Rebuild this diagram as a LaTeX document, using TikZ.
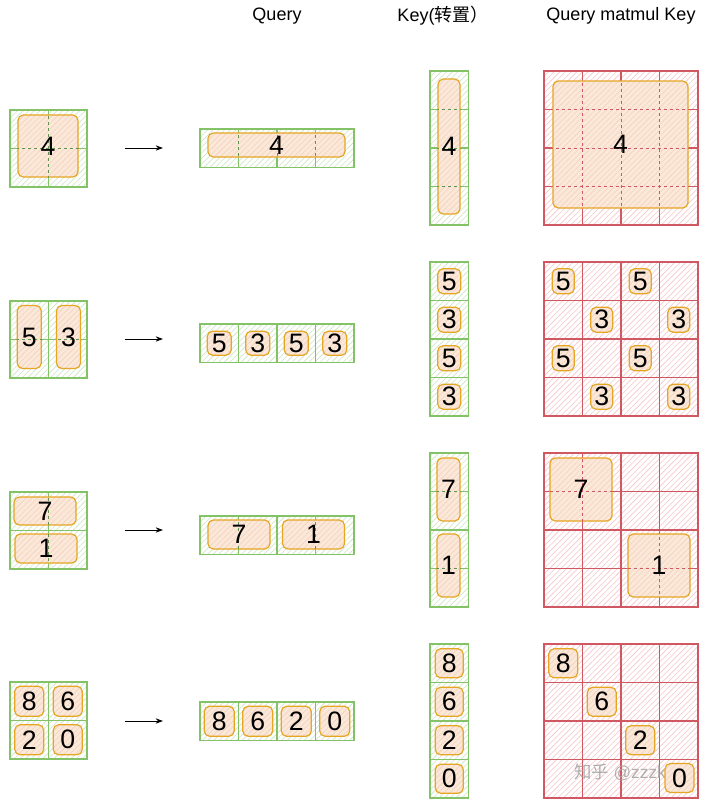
\documentclass[tikz,border=0pt]{standalone}
\usepackage{fontspec}
\setmainfont{Liberation Sans}
\newfontfamily\cjk{Noto Sans CJK SC}
\usetikzlibrary{patterns.meta,arrows.meta}
\definecolor{gline}{RGB}{132,194,104}
\definecolor{ghatch}{RGB}{204,230,194}
\definecolor{rline}{RGB}{208,88,98}
\definecolor{rhatch}{RGB}{245,198,202}
\definecolor{oline}{RGB}{230,165,35}
\definecolor{ofill}{RGB}{251,232,216}
\definecolor{ohatch}{RGB}{242,210,190}
\colorlet{dcol}{gline}
\tikzset{
  gcell/.style={draw=gline, line width=0.8pt, pattern={Lines[angle=45,distance=3pt,line width=0.45pt]}, pattern color=ghatch},
  rcell/.style={draw=rline, line width=0.9pt, pattern={Lines[angle=45,distance=3pt,line width=0.45pt]}, pattern color=rhatch},
  obox/.style={rectangle, draw=oline, line width=0.9pt, rounded corners=4pt, inner sep=0pt,
     preaction={fill=ofill}, pattern={Lines[angle=45,distance=3pt,line width=0.45pt]}, pattern color=ohatch},
  dgrid/.style={draw=dcol, line width=0.6pt, dash pattern=on 2.5pt off 2pt},
  num/.style={font=\fontsize{20}{23}\selectfont, inner sep=0pt, text=black},
  title/.style={font=\fontsize{13.5}{16}\selectfont, inner sep=0pt, text=black},
  arr/.style={draw=black, line width=0.7pt, -{Stealth[length=5.5pt,width=4pt]}}
}
% cells of a matrix: style, x0, y0, cols, rows
\newcommand\gridmat[5]{%
  \foreach \i in {1,...,#4}{\foreach \j in {1,...,#5}{%
    \path[#1] ({#2+(\i-1)*38.5},{#3+(\j-1)*38.5}) rectangle ++(38.5,38.5);}}}
% orange box: name, x, y, w, h, text ; uses \gx \gy \gc \gr for dashed grid
\newcommand\ob[6]{%
  \node[obox, minimum width=#4*0.75pt, minimum height=#5*0.75pt] (#1) at (#2,#3) {};
  \begin{scope}
    \clip[rounded corners=4pt] (#1.south west) rectangle (#1.north east);
    \foreach \k in {0,...,\gc} \draw[dgrid] ({\gx+\k*38.5},\gy) -- ++(0,{\gr*38.5});
    \foreach \k in {0,...,\gr} \draw[dgrid] (\gx,{\gy+\k*38.5}) -- ++({\gc*38.5},0);
  \end{scope}
  \node[num] (t#1) at (#1.center) {#6};
}
\newcommand\setg[4]{\def\gx{#1}\def\gy{#2}\def\gc{#3}\def\gr{#4}}
\begin{document}
\begin{tikzpicture}[x=0.75pt,y=-0.75pt]
\useasboundingbox (0,0) rectangle (706,807);
\fill[white] (0,0) rectangle (706,807);

% titles
\node[title] (hq) at (277,16) {Query};
\node[title] (hk) at (443,16) {Key(\cjk 转置）};
\node[title] (hm) at (621,16) {Query matmul Key};

% arrows
\foreach \y [count=\n] in {148,339,530,721}{
  \coordinate (as\n) at (125,\y);
  \coordinate (ae\n) at (163,\y);
  \draw[arr] (as\n) -- (ae\n);
}

%%%%%%%% Row 1
\colorlet{dcol}{gline!75!black}
\gridmat{gcell}{10}{110}{2}{2}\setg{10}{110}{2}{2}
\ob{L1}{48}{146}{60}{62}{4}
\gridmat{gcell}{200}{129}{4}{1}\setg{200}{129}{4}{1}
\ob{Q1}{276.5}{145}{137}{24}{4}
\gridmat{gcell}{430}{71}{1}{4}\setg{430}{71}{1}{4}
\ob{K1}{449}{146.5}{22}{135}{4}
\colorlet{dcol}{rline}
\gridmat{rcell}{544}{71}{4}{4}\setg{544}{71}{4}{4}
\ob{M1}{620.5}{144.5}{135}{127}{4}

%%%%%%%% Row 2
\colorlet{dcol}{gline!75!black}
\gridmat{gcell}{10}{301}{2}{2}\setg{10}{301}{2}{2}
\ob{L2a}{29.25}{337}{24}{63}{5}
\ob{L2b}{68.5}{337}{24}{63}{3}
\gridmat{gcell}{200}{324}{4}{1}\setg{200}{324}{4}{1}
\foreach \v/\xx [count=\n] in {5/219.25,3/257.75,5/296.25,3/334.75}{\ob{Q2\n}{\xx}{343.25}{24}{24}{\v}}
\gridmat{gcell}{430}{262}{1}{4}\setg{430}{262}{1}{4}
\foreach \v/\yy [count=\n] in {5/281.25,3/319.75,5/358.25,3/396.75}{\ob{K2\n}{449.25}{\yy}{23}{25}{\v}}
\colorlet{dcol}{rline}
\gridmat{rcell}{544}{262}{4}{4}\setg{544}{262}{4}{4}
\foreach \v/\xx/\yy [count=\n] in {5/563.25/281.25,5/640.25/281.25,3/601.75/319.75,3/678.75/319.75,5/563.25/358.25,5/640.25/358.25,3/601.75/396.75,3/678.75/396.75}{\ob{M2\n}{\xx}{\yy}{22}{25}{\v}}

%%%%%%%% Row 3
\colorlet{dcol}{gline!75!black}
\gridmat{gcell}{10}{492}{2}{2}\setg{10}{492}{2}{2}
\ob{L3a}{45}{511}{62}{28}{7}
\ob{L3b}{46}{548.5}{62}{29}{1}
\gridmat{gcell}{200}{516}{4}{1}\setg{200}{516}{4}{1}
\ob{Q3a}{239}{534.5}{62}{29}{7}
\ob{Q3b}{313.5}{534.5}{62}{29}{1}
\gridmat{gcell}{430}{453}{1}{4}\setg{430}{453}{1}{4}
\ob{K3a}{448.5}{489.5}{23}{63}{7}
\ob{K3b}{448.5}{565.5}{23}{63}{1}
\colorlet{dcol}{rline}
\gridmat{rcell}{544}{453}{4}{4}\setg{544}{453}{4}{4}
\ob{M3a}{581}{489.5}{62}{63}{7}
\ob{M3b}{659}{565.5}{62}{63}{1}

%%%%%%%% Row 4
\colorlet{dcol}{gline!75!black}
\gridmat{gcell}{10}{682}{2}{2}\setg{10}{682}{2}{2}
\foreach \v/\xx/\yy [count=\n] in {8/29.25/701.25,6/67.75/701.25,2/29.25/739.75,0/67.75/739.75}{\ob{L4\n}{\xx}{\yy}{29}{30}{\v}}
\gridmat{gcell}{200}{702}{4}{1}\setg{200}{702}{4}{1}
\foreach \v/\xx [count=\n] in {8/219.25,6/257.75,2/296.25,0/334.75}{\ob{Q4\n}{\xx}{721.25}{30}{30}{\v}}
\gridmat{gcell}{430}{644}{1}{4}\setg{430}{644}{1}{4}
\foreach \v/\yy [count=\n] in {8/663.25,6/701.75,2/740.25,0/778.75}{\ob{K4\n}{449.25}{\yy}{28}{29}{\v}}
\colorlet{dcol}{rline}
\gridmat{rcell}{544}{644}{4}{4}\setg{544}{644}{4}{4}
\node[font=\fontsize{13}{15}\selectfont, text=black!35, opacity=0.9, inner sep=0pt] (wm) at (620,772) {{\cjk 知乎} @zzzk};
\foreach \v/\xx/\yy [count=\n] in {8/563.25/663.25,6/601.75/701.75,2/640.25/740.25,0/679.5/778}{\ob{M4\n}{\xx}{\yy}{29}{29}{\v}}
\end{tikzpicture}
\end{document}
